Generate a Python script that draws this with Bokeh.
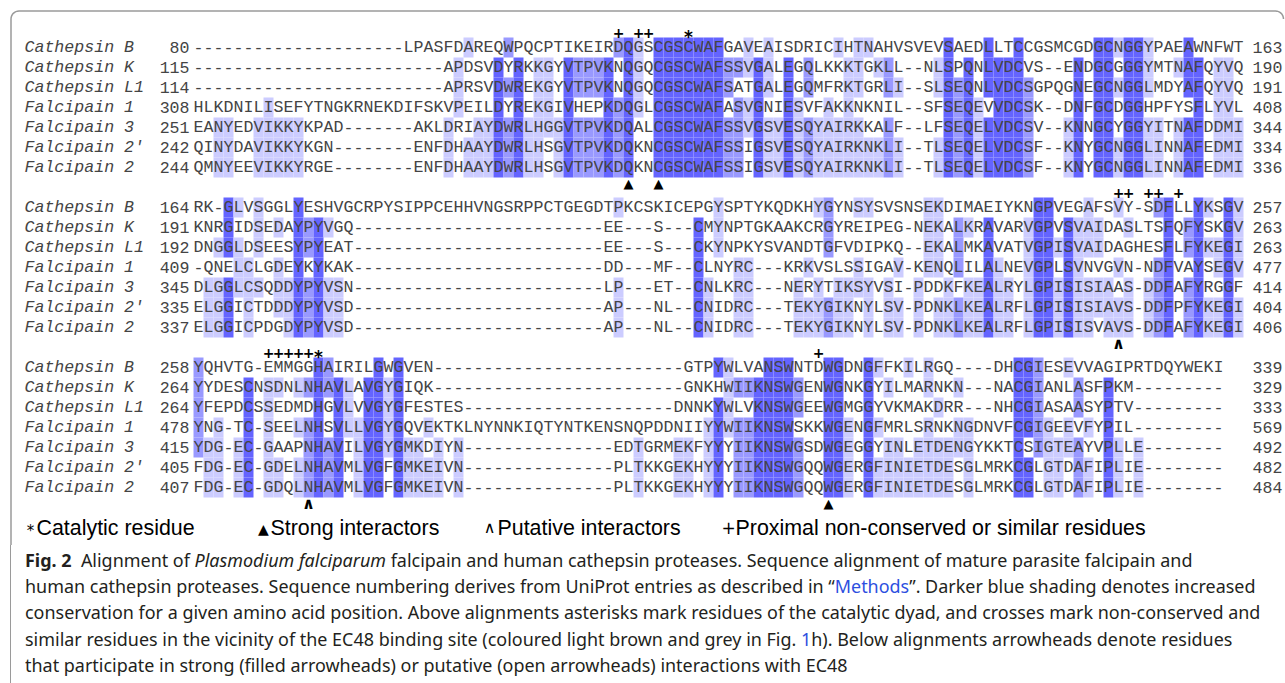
from bokeh.plotting import figure
from bokeh.models import Range1d, ColumnDataSource, Div
from bokeh.layouts import column
from bokeh.core.properties import value
from bokeh.embed import file_html
from bokeh.resources import INLINE
import math

# ---------------- data ----------------
names = ["Cathepsin B", "Cathepsin K", "Cathepsin L1", "Falcipain 1",
         "Falcipain 3", "Falcipain 2\u2032", "Falcipain 2"]

b1_start = [80, 115, 114, 308, 251, 242, 244]
b1_end = [163, 190, 191, 408, 344, 334, 336]
b1_seq = [
    "-" * 21 + "LPASFDAREQWPQCPTIKEIRDQGSCGSCWAFGAVEAISDRICIHTNAHVSVEVSAEDLLTCCGSMCGDGCNGGYPAEAWNFWT",
    "-" * 25 + "APDSVDYRKKGYVTPVKNQGQCGSCWAFSSVGALEGQLKKKTGKLL--NLSPQNLVDCVS--ENDGCGGGYMTNAFQYVQ",
    "-" * 25 + "APRSVDWREKGYVTPVKNQGQCGSCWAFSATGALEGQMFRKTGRLI--SLSEQNLVDCSGPQGNEGCNGGLMDYAFQYVQ",
    "HLKDNILISEFYTNGKRNEKDIFSKVPEILDYREKGIVHEPKDQGLCGSCWAFASVGNIESVFAKKNKNIL--SFSEQEVVDCSK--DNFGCDGGHPFYSFLYVL",
    "EANYEDVIKKYKPAD" + "-" * 7 + "AKLDRIAYDWRLHGGVTPVKDQALCGSCWAFSSVGSVESQYAIRKKALF--LFSEQELVDCSV--KNNGCYGGYITNAFDDMI",
    "QINYDAVIKKYKGN" + "-" * 8 + "ENFDHAAYDWRLHSGVTPVKDQKNCGSCWAFSSIGSVESQYAIRKNKLI--TLSEQELVDCSF--KNYGCNGGLINNAFEDMI",
    "QMNYEEVIKKYRGE" + "-" * 8 + "ENFDHAAYDWRLHSGVTPVKDQKNCGSCWAFSSIGSVESQYAIRKNKLI--TLSEQELVDCSF--KNYGCNGGLINNAFEDMI",
]

b2_start = [164, 191, 192, 409, 345, 335, 337]
b2_end = [257, 263, 263, 477, 414, 404, 406]
b2_seq = [
    "RK-GLVSGGLYESHVGCRPYSIPPCEHHVNGSRPPCTGEGDTPKCSKICEPGYSPTYKQDKHYGYNSYSVSNSEKDIMAEIYKNGPVEGAFSVY-SDFLLYKSGV",
    "KNRGIDSEDAYPYVGQ" + "-" * 25 + "EE---S---CMYNPTGKAAKCRGYREIPEG-NEKALKRAVARVGPVSVAIDASLTSFQFYSKGV",
    "DNGGLDSEESYPYEAT" + "-" * 25 + "EE---S---CKYNPKYSVANDTGFVDIPKQ--EKALMKAVATVGPISVAIDAGHESFLFYKEGI",
    "-QNELCLGDEYKYKAK" + "-" * 25 + "DD---MF--CLNYRC---KRKVSLSSIGAV-KENQLILALNEVGPLSVNVGVN-NDFVAYSEGV",
    "DLGGLCSQDDYPYVSN" + "-" * 25 + "LP---ET--CNLKRC---NERYTIKSYVSI-PDDKFKEALRYLGPISISIAAS-DDFAFYRGGF",
    "ELGGICTDDDYPYVSD" + "-" * 25 + "AP---NL--CNIDRC---TEKYGIKNYLSV-PDNKLKEALRFLGPISISIAVS-DDFPFYKEGI",
    "ELGGICPDGDYPYVSD" + "-" * 25 + "AP---NL--CNIDRC---TEKYGIKNYLSV-PDNKLKEALRFLGPISISVAVS-DDFAFYKEGI",
]

b3_start = [258, 264, 264, 478, 415, 405, 407]
b3_end = [339, 329, 333, 569, 492, 482, 484]
b3_seq = [
    "YQHVTG-EMMGGHAIRILGWGVEN" + "-" * 25 + "GTPYWLVANSWNTDWGDNGFFKILRGQ----DHCGIESEVVAGIPRTDQYWEKI",
    "YYDESCNSDNLNHAVLAVGYGIQK" + "-" * 25 + "GNKHWIIKNSWGENWGNKGYILMARNKN---NACGIANLASFPKM" + "-" * 9,
    "YFEPDCSSEDMDHGVLVVGYGFESTES" + "-" * 21 + "DNNKYWLVKNSWGEEWGMGGYVKMAKDRR---NHCGIASAASYPTV" + "-" * 9,
    "YNG-TC-SEELNHSVLLVGYGQVEKTKLNYNNKIQTYNTKENSNQPDDNIIYYWIIKNSWSKKWGENGFMRLSRNKNGDNVFCGIGEEVFYPIL" + "-" * 9,
    "YDG-EC-GAAPNHAVILVGYGMKDIYN" + "-" * 15 + "EDTGRMEKFYYYIIKNSWGSDWGEGGYINLETDENGYKKTCSIGTEAYVPLLE" + "-" * 8,
    "FDG-EC-GDELNHAVMLVGFGMKEIVN" + "-" * 15 + "PLTKKGEKHYYYIIKNSWGQQWGERGFINIETDESGLMRKCGLGTDAFIPLIE" + "-" * 8,
    "FDG-EC-GDQLNHAVMLVGFGMKEIVN" + "-" * 15 + "PLTKKGEKHYYYIIKNSWGQQWGERGFINIETDESGLMRKCGLGTDAFIPLIE" + "-" * 8,
]

# annotations: (block, column, symbol)
top_marks = [(0, 42, "+"), (0, 44, "+"), (0, 45, "+"), (0, 49, "*"),
             (1, 92, "+"), (1, 93, "+"), (1, 95, "+"), (1, 96, "+"), (1, 98, "+"),
             (2, 7, "+"), (2, 8, "+"), (2, 9, "+"), (2, 10, "+"), (2, 11, "+"), (2, 12, "*"),
             (2, 62, "+")]
bottom_marks = [(0, 43, "\u25B2"), (0, 46, "\u25B2"), (1, 92, "\u2227"),
                (2, 11, "\u2227"), (2, 63, "\u25B2")]

legend_symbols = ["*", "\u25B2", "\u2227", "+"]
legend_labels = ["Catalytic residue", "Strong interactors", "Putative interactors",
                 "Proximal non-conserved or similar residues"]

caption_lines = [
    "<b>Fig.&nbsp;2</b>&nbsp;&nbsp;Alignment of <i>Plasmodium falciparum</i> falcipain and human cathepsin proteases. Sequence alignment of mature parasite falcipain and",
    "human cathepsin proteases. Sequence numbering derives from UniProt entries as described in \u201c<span style='color:#2d4fe0'>Methods</span>\u201d. Darker blue shading denotes increased",
    "conservation for a given amino acid position. Above alignments asterisks mark residues of the catalytic dyad, and crosses mark non-conserved and",
    "similar residues in the vicinity of the EC48 binding site (coloured light brown and grey in Fig. <span style='color:#2d4fe0'>1</span>h). Below alignments arrowheads denote residues",
    "that participate in strong (filled arrowheads) or putative (open arrowheads) interactions with EC48",
]

# ---------------- layout constants ----------------
PAGE_W = 1285
FIG_H = 545
CAP_H = 683 - FIG_H
X0, CW, RH = 193, 10, 20
BLOCK_TOP = [37, 197, 357]
SHADES = {3: "#6464FF", 2: "#9999FF", 1: "#CCCCFF"}
MONO = "Liberation Mono"
SEQ_SIZE = "16.6px"
TXT = "#444444"
FRAME = "#9a9a9a"

blocks = [(b1_start, b1_end, b1_seq), (b2_start, b2_end, b2_seq), (b3_start, b3_end, b3_seq)]

# percentage identity shading (Jalview style) from the full alignment
full = ["".join(parts) for parts in zip(b1_seq, b2_seq, b3_seq)]
nseq = len(full)
levels = [[0] * len(s) for s in full]
for c in range(min(len(s) for s in full)):
    col = [s[c] for s in full]
    counts = {}
    for ch in col:
        if ch != "-":
            counts[ch] = counts.get(ch, 0) + 1
    if not counts:
        continue
    mx = max(counts.values())
    pct = 100.0 * mx / nseq
    lev = 3 if pct > 80 else 2 if pct > 60 else 1 if pct > 40 else 0
    if lev == 0:
        continue
    for r, ch in enumerate(col):
        if ch != "-" and counts.get(ch, 0) == mx:
            levels[r][c] = lev

cell = dict(left=[], right=[], top=[], bottom=[], color=[])
chars = dict(x=[], y=[], t=[])
lab = dict(x=[], y=[], t=[])
snum = dict(x=[], y=[], t=[])
enum_ = dict(x=[], y=[], t=[])
offset = 0
for b, (starts, ends, seqs) in enumerate(blocks):
    top = BLOCK_TOP[b]
    for r, s in enumerate(seqs):
        y0 = top + r * RH
        yc = y0 + RH / 2
        for c, ch in enumerate(s):
            lev = levels[r][offset + c]
            if lev:
                cell["left"].append(X0 + c * CW)
                cell["right"].append(X0 + (c + 1) * CW)
                cell["top"].append(y0)
                cell["bottom"].append(y0 + RH)
                cell["color"].append(SHADES[lev])
            chars["x"].append(X0 + c * CW + CW / 2)
            chars["y"].append(yc)
            chars["t"].append(ch)
        lab["x"].append(24); lab["y"].append(yc); lab["t"].append(names[r])
        snum["x"].append(X0 - 4); snum["y"].append(yc); snum["t"].append(str(starts[r]))
        enum_["x"].append(X0 + 106 * CW - 1); enum_["y"].append(yc); enum_["t"].append(str(ends[r]))
    offset += len(seqs[0])

p = figure(width=PAGE_W, height=FIG_H, x_range=Range1d(0, PAGE_W),
           y_range=Range1d(FIG_H, 0), output_backend="svg",
           toolbar_location=None, x_axis_type=None, y_axis_type=None, min_border=0)
p.grid.visible = False
p.outline_line_color = None
p.background_fill_color = "white"
p.border_fill_color = "white"

# frame (rounded top corners)
fx, fy = [10.5, 10.5], [FIG_H + 2, 18.5]
for k in range(1, 9):
    a = math.pi - k * (math.pi / 2) / 8
    fx.append(18.5 + 8 * math.cos(a)); fy.append(18.5 - 8 * math.sin(a))
fx.append(1275); fy.append(10.5)
for k in range(1, 9):
    a = math.pi / 2 - k * (math.pi / 2) / 8
    fx.append(1275 + 8 * math.cos(a)); fy.append(18.5 - 8 * math.sin(a))
p.line(fx, fy, line_color=FRAME, line_width=1.5)

p.quad(left="left", right="right", top="top", bottom="bottom", fill_color="color",
       line_color=None, source=ColumnDataSource(cell))

p.text(x="x", y="y", text="t", source=ColumnDataSource(chars), text_font=value(MONO),
       text_font_size=value(SEQ_SIZE), text_align="center", text_baseline="middle",
       text_color=TXT)
p.text(x="x", y="y", text="t", source=ColumnDataSource(lab), text_font=value(MONO),
       text_font_size=value(SEQ_SIZE), text_font_style="italic", text_align="left",
       text_baseline="middle", text_color=TXT)
p.text(x="x", y="y", text="t", source=ColumnDataSource(snum), text_font=value(MONO),
       text_font_size=value(SEQ_SIZE), text_align="right", text_baseline="middle",
       text_color=TXT)
p.text(x="x", y="y", text="t", source=ColumnDataSource(enum_), text_font=value(MONO),
       text_font_size=value(SEQ_SIZE), text_align="left", text_baseline="middle",
       text_color=TXT)

# marks above the alignment
tp = dict(x=[], y=[], t=[])
ta = dict(x=[], y=[], t=[])
for b, c, sym in top_marks:
    d = ta if sym == "*" else tp
    d["x"].append(X0 + c * CW + CW / 2)
    d["y"].append(BLOCK_TOP[b] - 5 + (4 if sym == "*" else 0))
    d["t"].append(sym)
p.text(x="x", y="y", text="t", source=ColumnDataSource(tp), text_font=value("DejaVu Sans"),
       text_font_size=value("14px"), text_font_style="bold", text_align="center",
       text_baseline="middle", text_color="black")
p.text(x="x", y="y", text="t", source=ColumnDataSource(ta), text_font=value("DejaVu Sans"),
       text_font_size=value("17px"), text_font_style="bold", text_align="center",
       text_baseline="middle", text_color="black")

# marks below the alignment
bf = dict(x=[], y=[], t=[])
bo = dict(x=[], y=[], t=[])
for b, c, sym in bottom_marks:
    d = bf if sym == "\u25B2" else bo
    d["x"].append(X0 + c * CW + CW / 2)
    d["y"].append(BLOCK_TOP[b] + 7 * RH + 6)
    d["t"].append(sym)
p.text(x="x", y="y", text="t", source=ColumnDataSource(bf), text_font=value("DejaVu Sans"),
       text_font_size=value("13px"), text_align="center",
       text_baseline="middle", text_color="black")
p.text(x="x", y="y", text="t", source=ColumnDataSource(bo), text_font=value("DejaVu Sans"),
       text_font_size=value("16px"), text_font_style="bold", text_align="center",
       text_baseline="middle", text_color="black")

# legend row
LEG_Y = 527
lab_x = [36, 270, 497, 735]
sym_src = ColumnDataSource(dict(
    x=[30, 263, 489, 728],
    y=[LEG_Y + 3, LEG_Y + 1, LEG_Y, LEG_Y],
    t=legend_symbols,
    size=["15px", "14px", "16px", "17px"],
))
p.text(x=lab_x, y=[LEG_Y] * 4, text=legend_labels, text_font=value("Liberation Sans"),
       text_font_size=value("21.4px"), text_align="left", text_baseline="middle",
       text_color="black")
p.text(x="x", y="y", text="t", source=sym_src, text_font=value("DejaVu Sans"),
       text_font_size="size", text_align="center", text_baseline="middle",
       text_color="black")

html = ("<div style=\"margin-left:10px;border-left:1.5px solid " + FRAME + ";height:" + str(CAP_H) + "px;"
        "box-sizing:border-box;padding:2px 0 0 13.5px;font-family:'Noto Sans';font-size:18.5px;"
        "line-height:26.2px;color:#231f20;white-space:nowrap;overflow:hidden;\">"
        "<div style='transform:scaleX(0.97);transform-origin:0 0;'>"
        + "<br>".join(caption_lines) + "</div></div>")
cap = Div(text=html, width=PAGE_W, height=CAP_H, margin=(0, 0, 0, 0))

layout = column(p, cap, spacing=0)
open("out.html", "w").write(file_html(layout, INLINE))
